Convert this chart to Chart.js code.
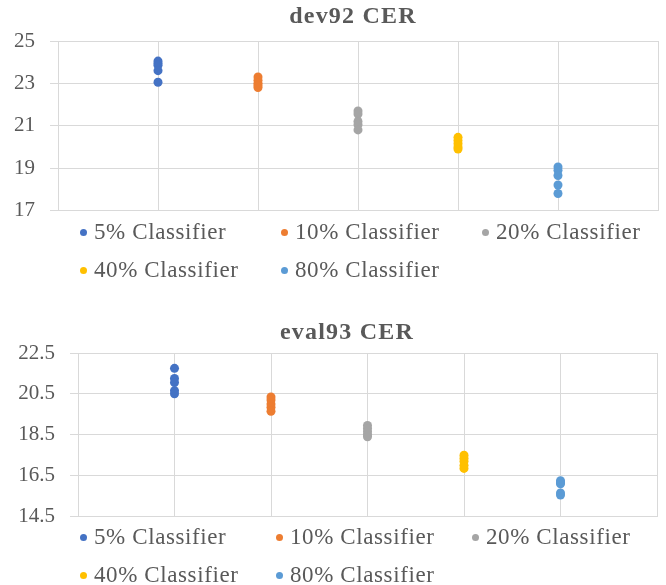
<!DOCTYPE html>
<html>
<head>
<meta charset="utf-8">
<script src="https://cdn.jsdelivr.net/npm/chart.js@4"></script>
<style>
  body { margin: 0; background: #fff; }
  #page { position: relative; width: 666px; height: 585px; overflow: hidden; }
  .chart-box { position: absolute; left: 0; width: 666px; }
  .chart-title {
    position: absolute;
    transform: translate(-50%, -50%);
    font-family: "Liberation Serif", serif;
    font-weight: bold;
    font-size: 24px;
    letter-spacing: 1.2px;
    color: #595959;
    white-space: nowrap;
  }
  .legend {
    position: absolute;
    display: grid;
    grid-auto-rows: 38px;
    font-family: "Liberation Serif", serif;
    font-size: 23px;
    letter-spacing: 0.6px;
    color: #595959;
  }
  .legend-item { display: flex; align-items: center; white-space: nowrap; }
  .legend-dot { width: 7px; height: 7px; border-radius: 50%; margin-right: 7px; }
</style>
</head>
<body>
<div id="page">
  <div class="chart-box" style="top:0;height:238px;"><canvas id="devChart"></canvas></div>
  <div class="chart-title" style="left:353px;top:15px;">dev92 CER</div>
  <div class="legend" id="devLegend" style="left:80px;top:213px;grid-template-columns:201px 201px 201px;"></div>
  <div class="chart-box" style="top:300px;height:244px;"><canvas id="evalChart"></canvas></div>
  <div class="chart-title" style="left:347px;top:331px;">eval93 CER</div>
  <div class="legend" id="evalLegend" style="left:80px;top:518px;grid-template-columns:196px 196px 196px;"></div>
</div>
<script>
  // Categories and colours
  const classifiers = ["5% Classifier", "10% Classifier", "20% Classifier", "40% Classifier", "80% Classifier"];
  const colors = ["#4472C4", "#ED7D31", "#A5A5A5", "#FFC000", "#5B9BD5"];

  // dev92 CER values, one list per classifier
  const dev92_5 = [24.05, 23.95, 23.85, 23.6, 23.05];
  const dev92_10 = [23.3, 23.15, 23.0, 22.9, 22.8];
  const dev92_20 = [21.7, 21.55, 21.2, 21.05, 20.8];
  const dev92_40 = [20.45, 20.3, 20.15, 20.0, 19.9];
  const dev92_80 = [19.05, 18.9, 18.65, 18.2, 17.8];

  // eval93 CER values
  const eval93_5 = [21.75, 21.25, 21.05, 20.65, 20.5];
  const eval93_10 = [20.35, 20.2, 20.0, 19.85, 19.65];
  const eval93_20 = [18.95, 18.8, 18.65, 18.5, 18.4];
  const eval93_40 = [17.5, 17.35, 17.2, 17.0, 16.85];
  const eval93_80 = [16.25, 16.15, 16.1, 15.65, 15.55];

  // Axis ticks
  const devTicks = [17, 19, 21, 23, 25];
  const evalTicks = [14.5, 16.5, 18.5, 20.5, 22.5];

  const textColor = "#595959";
  const gridColor = "#D9D9D9";
  const fontFamily = "'Liberation Serif', serif";

  function buildDatasets(series) {
    return series.map((values, i) => ({
      label: classifiers[i],
      data: values.map((v) => ({ x: i + 1, y: v })),
      backgroundColor: colors[i],
      borderColor: colors[i],
      borderWidth: 0,
      pointRadius: 4.5,
    }));
  }

  function makeChart(canvasId, series, ticks, topPad, axisWidth, rightPad, decimals) {
    const ctx = document.getElementById(canvasId).getContext("2d");
    return new Chart(ctx, {
      type: "scatter",
      data: { datasets: buildDatasets(series) },
      options: {
        responsive: true,
        maintainAspectRatio: false,
        animation: false,
        layout: { padding: { top: topPad, right: rightPad } },
        plugins: {
          legend: { display: false },
          tooltip: { enabled: false },
        },
        scales: {
          x: {
            type: "linear",
            min: 0,
            max: 6,
            ticks: { display: false, stepSize: 1 },
            grid: { color: gridColor, drawTicks: false },
            border: { color: gridColor },
            afterFit: (scale) => { scale.height = 14; },
          },
          y: {
            min: ticks[0],
            max: ticks[ticks.length - 1],
            afterBuildTicks: (scale) => {
              scale.ticks = ticks.map((v) => ({ value: v }));
            },
            ticks: {
              color: textColor,
              font: { family: fontFamily, size: 21 },
              padding: 15,
              callback: (v) => v.toFixed(decimals),
            },
            grid: { color: gridColor, tickLength: 8 },
            border: { color: gridColor },
            afterFit: (scale) => { scale.width = axisWidth; },
          },
        },
      },
    });
  }

  function buildLegend(id) {
    const legend = document.getElementById(id);
    classifiers.forEach((name, i) => {
      const item = document.createElement("div");
      item.className = "legend-item";
      item.innerHTML = `<span class="legend-dot" style="background:${colors[i]}"></span><span>${name}</span>`;
      legend.appendChild(item);
    });
  }

  makeChart("devChart", [dev92_5, dev92_10, dev92_20, dev92_40, dev92_80],
    devTicks, 41, 58, 8, 0);
  makeChart("evalChart", [eval93_5, eval93_10, eval93_20, eval93_40, eval93_80],
    evalTicks, 53, 78, 9, 1);

  buildLegend("devLegend");
  buildLegend("evalLegend");
</script>
</body>
</html>
